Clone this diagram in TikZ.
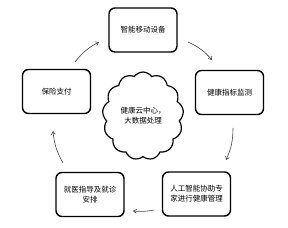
\documentclass[tikz,border=0pt]{standalone}
\usepackage{fontspec}
\setmainfont{Noto Sans CJK SC}
\usetikzlibrary{shapes,shapes.symbols,arrows.meta,positioning,calc}

\begin{document}
\begin{tikzpicture}[
    x=1pt, y=1pt,
    box/.style={rectangle, draw, line width=1.4pt, rounded corners=6pt, minimum width=68pt, minimum height=44pt, align=center, font=\fontsize{7.5}{10}\selectfont},
    flow/.style={-{Straight Barb[length=3pt,width=4pt]}, line width=0.6pt, draw=black!75}
]
\useasboundingbox (0,0) rectangle (288,227);
\node[box] (device) at (143,197) {智能移动设备};
\node[box] (monitor) at (229.5,134.5) {健康指标监测};
\node[box] (expert) at (196.5,33) {人工智能协助专\\家进行健康管理};
\node[box] (clinic) at (90,32.5) {就医指导及就诊\\安排};
\node[box] (pay) at (56.5,135.5) {保险支付};
\node[cloud, draw, line width=1.2pt, cloud puffs=13, cloud puff arc=110, aspect=0.9, minimum width=80pt, minimum height=87pt, align=center, font=\fontsize{7.5}{10}\selectfont] (cloud) at (143,111) {健康云中心，\\大数据处理};

% arc ends around the cloud
\coordinate (a1) at (188,185);
\coordinate (a2) at (212,167);
\coordinate (b1) at (233,99);
\coordinate (b2) at (226,67);
\coordinate (c1) at (154,17);
\coordinate (c2) at (133,16);
\coordinate (d1) at (63,64);
\coordinate (d2) at (53,96);
\coordinate (e1) at (75,165);
\coordinate (e2) at (99,185);

\draw[flow] (a1) to[bend left=12] (a2);
\draw[flow] (b1) to[bend left=12] (b2);
\draw[flow] (c1) to[bend left=8] (c2);
\draw[flow] (d1) to[bend left=12] (d2);
\draw[flow] (e1) to[bend left=12] (e2);
\end{tikzpicture}
\end{document}
